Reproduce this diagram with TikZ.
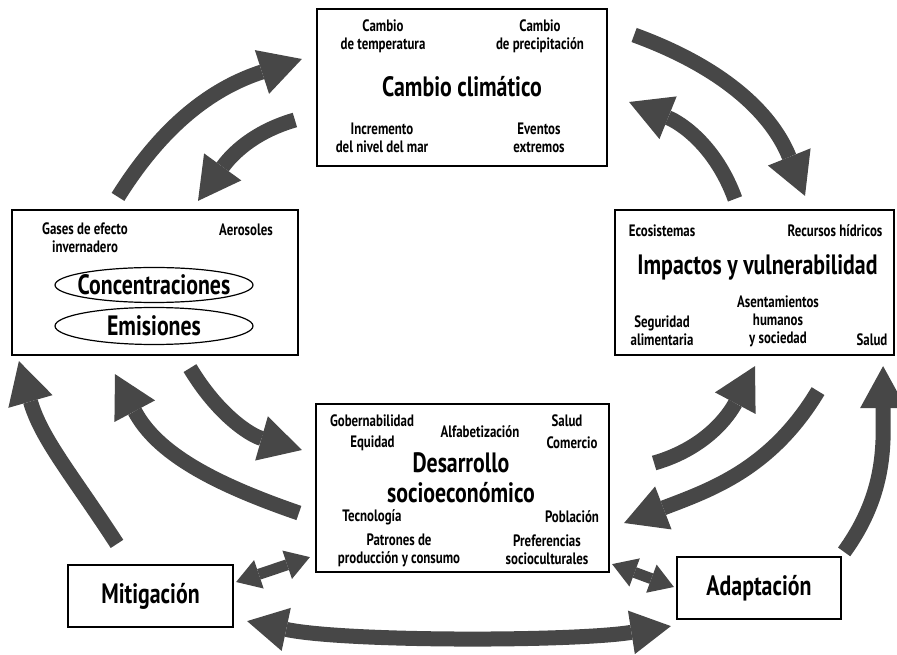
\documentclass[tikz,border=0pt]{standalone}
\usepackage{fontspec}
\setmainfont{PT Sans}[FakeStretch=0.78]
\usetikzlibrary{arrows.meta,shapes.geometric}
\definecolor{arrowgray}{RGB}{71,71,71}
\tikzset{
    box/.style={draw, line width=2.2pt, inner sep=0pt},
    oval/.style={draw, ellipse, line width=1.2pt, inner sep=0pt, minimum width=198pt},
    lbl/.style={font=\bfseries\fontsize{16.5}{18}\selectfont, align=center, inner sep=0pt},
    title/.style={font=\bfseries\fontsize{28}{30}\selectfont, align=center, inner sep=0pt},
    flow/.style={arrowgray, line width=15pt, -{Triangle[width=46pt,length=42pt,line width=0pt]}},
    sflow/.style={arrowgray, line width=11pt, {Triangle[width=30pt,length=24pt,line width=0pt]}-{Triangle[width=30pt,length=24pt,line width=0pt]}},
    bflow/.style={arrowgray, line width=15pt, {Triangle[width=44pt,length=40pt,line width=0pt]}-{Triangle[width=44pt,length=40pt,line width=0pt]}},
}

\begin{document}
\begin{tikzpicture}[x=1pt,y=1pt]
\useasboundingbox (0,0) rectangle (897,654);
% boxes
\node[box, minimum width=290pt, minimum height=157pt] (clim) at (462,566.5) {};
\node[box, minimum width=286pt, minimum height=145pt] (ghg) at (155,371.5) {};
\node[box, minimum width=279pt, minimum height=145pt] (imp) at (754.5,371.5) {};
\node[box, minimum width=293pt, minimum height=168pt] (dev) at (462.5,166) {};
\node[box, minimum width=165pt, minimum height=62pt, title] (mit) at (150.5,58) {Mitigación};
\node[box, minimum width=164pt, minimum height=62pt, title] (ada) at (759,66) {Adaptación};

% cambio climatico
\node[lbl] (temp) at (383,618) {Cambio\\de temperatura};
\node[lbl] (prec) at (540,618) {Cambio\\de precipitación};
\node[title] (climt) at (462,567) {Cambio climático};
\node[lbl] (nivel) at (382,516) {Incremento\\del nivel del mar};
\node[lbl] (evt) at (539,516) {Eventos\\extremos};

% concentraciones y emisiones
\node[lbl] (gases) at (85,416) {Gases de\ efecto\\invernadero};
\node[lbl] (aero) at (246,424) {Aerosoles};
\node[oval, minimum height=35pt] (conc) at (154,369) {};
\node[title] (conct) at (conc.center) {Concentraciones};
\node[oval, minimum height=37pt] (emis) at (154,328) {};
\node[title] (emist) at (emis.center) {Emisiones};

% impactos
\node[lbl] (eco) at (662,423) {Ecosistemas};
\node[lbl] (agua) at (835,423) {Recursos hídricos};
\node[title] (impt) at (757.5,387) {Impactos y vulnerabilidad};
\node[lbl] (asen) at (778,333) {Asentamientos\\humanos\\y sociedad};
\node[lbl] (segu) at (662,323) {Seguridad\\alimentaria};
\node[lbl] (salimp) at (872,314) {Salud};

% desarrollo
\node[lbl] (gob) at (372,233) {Gobernabilidad};
\node[lbl] (alfa) at (480,222) {Alfabetización};
\node[lbl] (saldev) at (567,233) {Salud};
\node[lbl] (equi) at (372.5,211) {Equidad};
\node[lbl] (com) at (572,211) {Comercio};
\node[title] (devt) at (461,176) {Desarrollo\\socioeconómico};
\node[lbl] (tec) at (372,137) {Tecnología};
\node[lbl] (pob) at (572,137) {Población};
\node[lbl] (patr) at (399,104) {Patrones de\\producción y consumo};
\node[lbl] (pref) at (547,104) {Preferencias\\socioculturales};

% flechas
\draw[flow] ([shift={(-37,12)}]ghg.north) to[out=58,in=198] ([shift={(-14,28.5)}]clim.west);
\draw[flow] ([shift={(-21,-32.5)}]clim.west) to[out=196,in=54] ([shift={(43,8)}]ghg.north);
\draw[flow] ([shift={(26,52.5)}]clim.east) to[out=-20,in=112] ([shift={(50.5,13)}]imp.north);
\draw[flow] ([shift={(-19.5,10)}]imp.north) to[out=110,in=-22] ([shift={(21,-14.5)}]clim.east);
\draw[flow] ([shift={(-33.5,20)}]mit.north) to[out=123,in=-74] ([shift={(8,-5)}]ghg.south west);
\draw[flow] ([shift={(-16,-25)}]dev.west) to[out=161,in=-62] ([shift={(-40,-18)}]ghg.south);
\draw[flow] ([shift={(35,-12)}]ghg.south) to[out=-59,in=164] ([shift={(-13,38)}]dev.west);
\draw[flow] ([shift={(44,25)}]dev.east) to[out=16,in=242] ([shift={(0.5,-10)}]imp.south);
\draw[flow] ([shift={(63.5,-35)}]imp.south) to[out=239,in=21] ([shift={(14,-35)}]dev.east);
\draw[flow] ([shift={(2,4)}]ada.north east) to[out=54,in=270] ([shift={(-12,-10)}]imp.south east);
\draw[sflow] ([shift={(2,14)}]mit.east) -- ([shift={(-5,16)}]dev.south west);
\draw[sflow] ([shift={(2,9)}]dev.south east) -- ([shift={(-2,1)}]ada.west);
\draw[bflow] ([shift={(13,7)}]mit.south east) to[out=-12,in=189,looseness=0.6] ([shift={(-5,-6)}]ada.south west);
\end{tikzpicture}
\end{document}
